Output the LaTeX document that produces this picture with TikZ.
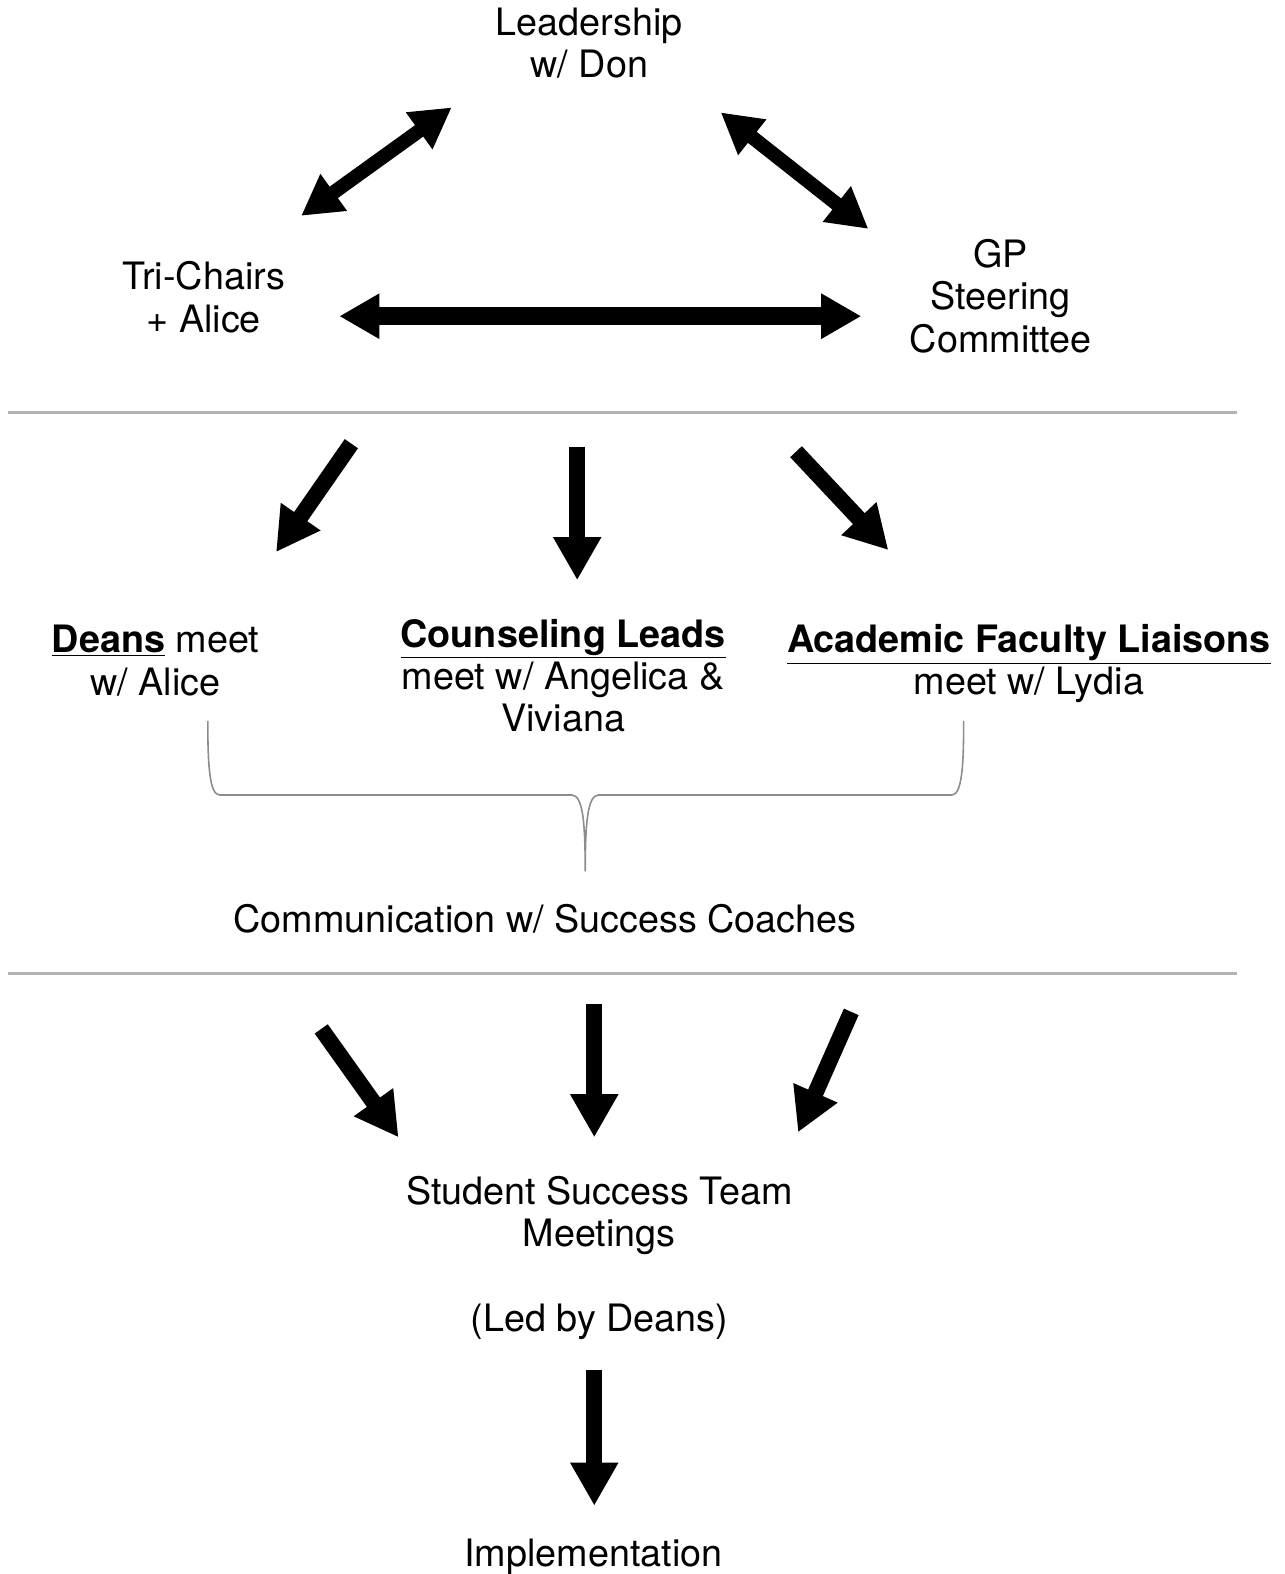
\documentclass[tikz,border=0pt]{standalone}
\usepackage{fontspec}
\setmainfont{TeX Gyre Heros}
\usetikzlibrary{arrows.meta}
\definecolor{gp@rule}{RGB}{178,178,178}
\definecolor{gp@brace}{RGB}{140,140,140}
\tikzset{
  gp/.style={
    x=0.2mm, y=-0.2mm,
    every node/.style={font=\fontsize{21.4}{24}\selectfont, align=center, inner sep=0pt}
  },
  fatarrow/.style={                % one-way block arrow
    line width=0.32cm,
    -{Triangle[length=0.86cm,width=0.9cm]}
  },
  fatboth/.style={                 % two-way block arrow
    line width=#1,
    {Triangle[length=0.8cm,width=0.85cm]}-{Triangle[length=0.8cm,width=0.85cm]}
  },
  fatboth/.default=0.28cm,
  tierrule/.style={draw=gp@rule, line width=1.8pt},
  bracket/.style={draw=gp@brace, line width=0.9pt}
}

\begin{document}
\begin{tikzpicture}[gp]
\useasboundingbox (0,0) rectangle (1280,1568);

% Top tier: leadership triangle
\node (lead) at (587,43) {Leadership\\w/ Don};
\node (tri)  at (203,296) {Tri-Chairs\\+ Alice};
\node (gpsc) at (997,295) {GP\\Steering\\Committee};

\coordinate (l1) at (300,215);  \coordinate (l2) at (450,107);
\coordinate (r1) at (718,112);  \coordinate (r2) at (865,228);
\coordinate (h1) at (338,315);  \coordinate (h2) at (858,315);
\draw[fatboth] (l1) -- (l2);
\draw[fatboth] (r1) -- (r2);
\draw[fatboth=0.36cm] (h1) -- (h2);

\draw[tierrule] (8,411) -- (1232,411);

% Middle tier: three meeting groups
\coordinate (a1s) at (350,442);  \coordinate (a1e) at (275,550);
\coordinate (a2s) at (575,445);  \coordinate (a2e) at (575,578);
\coordinate (a3s) at (793,450);  \coordinate (a3e) at (885,548);
\draw[fatarrow] (a1s) -- (a1e);
\draw[fatarrow] (a2s) -- (a2e);
\draw[fatarrow] (a3s) -- (a3e);

\node (deans) at (155,658) {\underline{\textbf{Deans}} meet\\w/ Alice};
\node (couns) at (561,673) {\underline{\textbf{Counseling Leads}}\\meet w/ Angelica \&\\Viviana};
\node (afl)   at (1025,661) {\underline{\textbf{Academic Faculty Liaisons}}\\meet w/ Lydia};

% Curly brace gathering the three groups
\coordinate (brL) at (207,718);
\coordinate (brR) at (960,718);
\coordinate (brT) at (583,868);
\draw[bracket] (brL) .. controls (207,765) and (209,792) .. (219,792)
  -- (570,792) .. controls (580,793) and (583,815) .. (brT)
  .. controls (583,815) and (586,793) .. (596,792)
  -- (948,792) .. controls (958,792) and (960,765) .. (brR);

\node (comm) at (543,915) {Communication w/ Success Coaches};

\draw[tierrule] (8,970) -- (1232,970);

% Bottom tier: team meetings and implementation
\coordinate (b1s) at (320,1025);  \coordinate (b1e) at (397,1133);
\coordinate (b2s) at (592,1000);  \coordinate (b2e) at (592,1133);
\coordinate (b3s) at (848,1008);  \coordinate (b3e) at (795,1128);
\draw[fatarrow] (b1s) -- (b1e);
\draw[fatarrow] (b2s) -- (b2e);
\draw[fatarrow] (b3s) -- (b3e);

\node (sst) at (597,1253) {Student Success Team\\Meetings\\[24pt](Led by Deans)};

\coordinate (c1s) at (592,1365);  \coordinate (c1e) at (592,1500);
\draw[fatarrow] (c1s) -- (c1e);

\node (impl) at (591,1551) {Implementation};

\end{tikzpicture}
\end{document}
